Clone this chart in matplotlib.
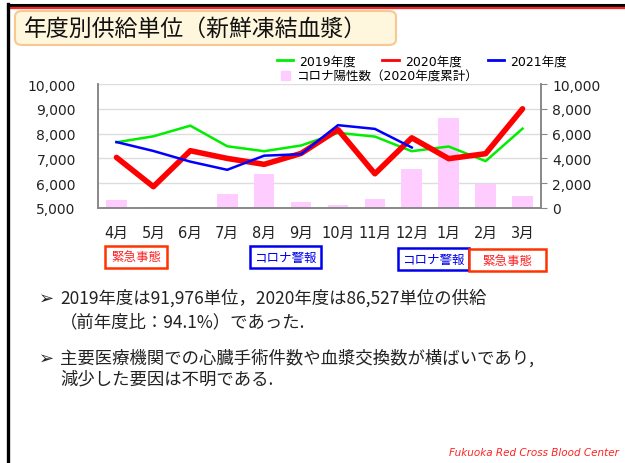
import matplotlib
matplotlib.use("Agg")
import matplotlib.pyplot as plt
from matplotlib.patches import FancyBboxPatch, Rectangle
from matplotlib.lines import Line2D

plt.rcParams['font.family'] = ['DejaVu Sans', 'Noto Sans CJK JP']

months = ['4月', '5月', '6月', '7月', '8月', '9月', '10月', '11月', '12月', '1月', '2月', '3月']
fy2019 = [7650, 7890, 8320, 7490, 7290, 7520, 8030, 7880, 7290, 7480, 6890, 8200]
fy2020 = [7040, 5860, 7310, 7000, 6760, 7200, 8160, 6380, 7830, 6990, 7190, 9000]
fy2021 = [7660, 7300, 6870, 6540, 7110, 7170, 8340, 8190, 7440]
covid = [620, 90, 100, 1100, 2710, 460, 220, 700, 3160, 7270, 1900, 940]
left_ticks = [5000, 6000, 7000, 8000, 9000, 10000]
right_ticks = [0, 2000, 4000, 6000, 8000, 10000]

W, H = 625, 464
fig = plt.figure(figsize=(W / 100, H / 100), dpi=100)

def fx(px):
    return px / W

def fy(py):
    return 1 - py / H

# frame lines
fig.add_artist(Line2D([fx(8), fx(625)], [fy(6), fy(6)], color='black', lw=2.2))
fig.add_artist(Line2D([fx(8), fx(625)], [fy(8.5), fy(8.5)], color='#FF2020', lw=1.6))
fig.add_artist(Line2D([fx(8), fx(8)], [fy(5), fy(464)], color='black', lw=2.4))

# title box
tb = FancyBboxPatch((fx(15), fy(46)), fx(381), 34 / H,
                    boxstyle="round,pad=0,rounding_size=0.012",
                    transform=fig.transFigure, facecolor='#FFF7DD',
                    edgecolor='#F8C890', lw=1.5)
fig.add_artist(tb)
fig.text(fx(24), fy(29.5), '年度別供給単位（新鮮凍結血漿）', fontsize=16.5,
         family=['Noto Sans CJK JP'], va='center', ha='left', color='#111111')

# axes
ax = fig.add_axes([fx(98), fy(209), fx(541 - 98), (209 - 85) / H])
ax2 = ax.twinx()
x = list(range(len(months)))

ax2.bar(x, covid, width=0.56, color='#FFCCFF', zorder=2)
ax2.set_ylim(0, 10000)
ax2.set_yticks(right_ticks)
ax2.set_yticklabels([f'{v:,}' for v in right_ticks], fontsize=10, color='#222222')
ax2.yaxis.grid(True, color='#DDDDDD', lw=1)
ax2.set_axisbelow(True)

ax.plot(x, fy2019, color='#00EE00', lw=1.8, zorder=3)
ax.plot(x, fy2020, color='#FF0000', lw=4.0, zorder=4, solid_capstyle='round', solid_joinstyle='round')
ax.plot(x[:len(fy2021)], fy2021, color='#0000FF', lw=1.8, zorder=5)
ax.set_ylim(5000, 10000)
ax.set_xlim(-0.5, 11.5)
ax.set_yticks(left_ticks)
ax.set_yticklabels([f'{v:,}' for v in left_ticks], fontsize=10, color='#222222')
ax.set_xticks(x)
ax.set_xticklabels(months, fontsize=10.5, color='#222222')
ax.tick_params(axis='x', length=0, pad=12)
ax.tick_params(axis='y', length=0, pad=16)
ax2.tick_params(axis='y', length=4, color='#888888', pad=4)
ax.set_zorder(ax2.get_zorder() + 1)
ax.patch.set_visible(False)
for a in (ax, ax2):
    a.spines['top'].set_visible(False)
    for s in ('left', 'right', 'bottom'):
        a.spines[s].set_color('#888888')
        a.spines[s].set_linewidth(1.2)

# legends
lh = [Line2D([], [], color='#00EE00', lw=2), Line2D([], [], color='#FF0000', lw=2),
      Line2D([], [], color='#0000FF', lw=2)]
leg1 = fig.legend(lh, ['2019年度', '2020年度', '2021年度'], ncol=3, frameon=False,
                  fontsize=9, loc='center left', bbox_to_anchor=(fx(277), fy(62)),
                  handlelength=1.3, handletextpad=0.5, columnspacing=2.1,
                  borderpad=0, borderaxespad=0)
ph = [Rectangle((0, 0), 1, 1, color='#FFCCFF')]
leg2 = fig.legend(ph, ['コロナ陽性数（2020年度累計）'], frameon=False, fontsize=9,
                  loc='center left', bbox_to_anchor=(fx(281), fy(77.5)),
                  handlelength=0.7, handleheight=0.7, handletextpad=0.5,
                  borderpad=0, borderaxespad=0)

# event boxes
def ebox(x0, x1, y0, y1, text, ec, tc):
    fig.add_artist(Rectangle((fx(x0), fy(y1)), fx(x1 - x0), (y1 - y0) / H,
                             transform=fig.transFigure, facecolor='white',
                             edgecolor=ec, lw=1.8))
    fig.text(fx((x0 + x1) / 2), fy((y0 + y1) / 2), text, ha='center', va='center',
             fontsize=9, color=tc, family=['Noto Sans CJK JP'])

ebox(105, 167, 247, 269, '緊急事態', '#FF3300', '#FF2222')
ebox(250, 321, 247, 269, 'コロナ警報', '#0000EE', '#0000EE')
ebox(398, 469, 249, 271, 'コロナ警報', '#0000EE', '#0000EE')
ebox(469, 546, 250, 272, '緊急事態', '#FF3300', '#FF2222')

# bullet text
tf = ['Noto Sans CJK JP', 'DejaVu Sans']
fig.text(fx(39), fy(299), '➢', fontsize=13, family=['DejaVu Sans'], va='center', ha='left',
         color='#222222')
fig.text(fx(60), fy(298), '2019年度は91,976単位，2020年度は86,527単位の供給',
         fontsize=12.5, family=tf, va='center', ha='left', color='#222222')
fig.text(fx(60), fy(322), '（前年度比：94.1%）であった.',
         fontsize=12.5, family=tf, va='center', ha='left', color='#222222')
fig.text(fx(39), fy(359), '➢', fontsize=13, family=['DejaVu Sans'], va='center', ha='left',
         color='#222222')
fig.text(fx(60), fy(358), '主要医療機関での心臓手術件数や血漿交換数が横ばいであり,',
         fontsize=12.5, family=tf, va='center', ha='left', color='#222222')
fig.text(fx(60), fy(379), '減少した要因は不明である.',
         fontsize=12.5, family=tf, va='center', ha='left', color='#222222')

fig.text(fx(619), fy(453), 'Fukuoka Red Cross Blood Center', fontsize=7.5,
         style='italic', color='#FF2222', ha='right', va='center')

fig.savefig('out.png', dpi=100)
